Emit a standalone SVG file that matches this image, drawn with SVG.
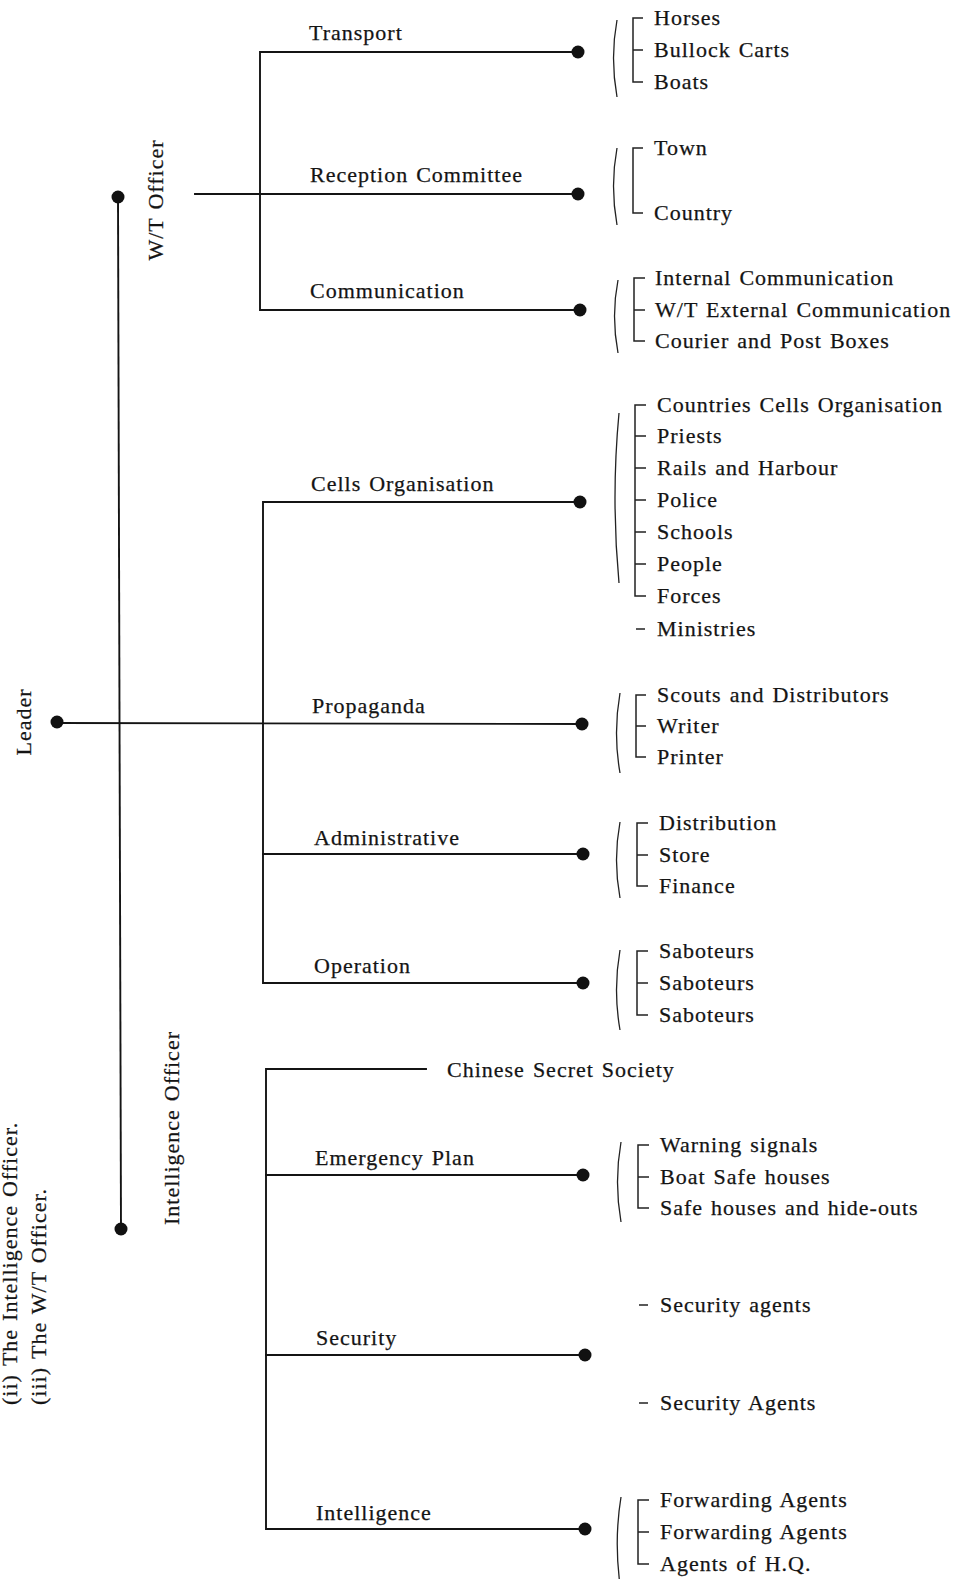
<svg xmlns="http://www.w3.org/2000/svg" width="964" height="1579" viewBox="0 0 964 1579">
  <style>
    text { font-family: "Liberation Serif", "Times New Roman", serif; font-size: 22px; fill: #141414; stroke: #141414; stroke-width: 0.25; letter-spacing: 1px; word-spacing: 1.5px; }
    .ln { stroke: #141414; stroke-width: 1.9; fill: none; stroke-linecap: square; }
    .dot { fill: #111; }
    .brace { stroke: #222; stroke-width: 1.3; fill: none; }
    .brk { stroke: #222; stroke-width: 1.5; fill: none; }
  </style>

  <rect width="964" height="1579" fill="#ffffff"/>

  <!-- side notes along the left edge -->
  <g id="notes">
    <text transform="translate(17,1405) rotate(-90)">(ii)<tspan dx="8">The Intelligence Officer.</tspan></text>
    <text transform="translate(46,1405) rotate(-90)">(iii)<tspan dx="8">The W/T Officer.</tspan></text>
  </g>

  <!-- connectors -->
  <g id="connectors">
    <!-- leader trunk and officer spine -->
    <line class="ln" x1="57" y1="723" x2="582" y2="724"/>
    <line class="ln" x1="118" y1="197" x2="121" y2="1229"/>
    <!-- W/T branch -->
    <polyline class="ln" points="578,52 260,52 260,310 580,310"/>
    <line class="ln" x1="195" y1="194" x2="578" y2="194"/>
    <!-- leader branch -->
    <polyline class="ln" points="580,502 263,502 263,983 583,983"/>
    <line class="ln" x1="263" y1="854" x2="583" y2="854"/>
    <!-- intelligence branch -->
    <polyline class="ln" points="426,1069 266,1069 266,1529 585,1529"/>
    <line class="ln" x1="266" y1="1175" x2="583" y2="1175"/>
    <line class="ln" x1="266" y1="1355" x2="585" y2="1355"/>

    <circle class="dot" cx="57" cy="722" r="6.5"/>
    <circle class="dot" cx="118" cy="197" r="6.5"/>
    <circle class="dot" cx="121" cy="1229" r="6.5"/>
    <circle class="dot" cx="578" cy="52" r="6.5"/>
    <circle class="dot" cx="578" cy="194" r="6.5"/>
    <circle class="dot" cx="580" cy="310" r="6.5"/>
    <circle class="dot" cx="580" cy="502" r="6.5"/>
    <circle class="dot" cx="582" cy="724" r="6.5"/>
    <circle class="dot" cx="583" cy="854" r="6.5"/>
    <circle class="dot" cx="583" cy="983" r="6.5"/>
    <circle class="dot" cx="583" cy="1175" r="6.5"/>
    <circle class="dot" cx="585" cy="1355" r="6.5"/>
    <circle class="dot" cx="585" cy="1529" r="6.5"/>
  </g>

  <!-- officers -->
  <g id="leader">
    <text transform="translate(31,722) rotate(-90)" text-anchor="middle">Leader</text>
  </g>
  <g id="wt-officer">
    <text transform="translate(163,200) rotate(-90)" text-anchor="middle">W/T Officer</text>
  </g>
  <g id="intelligence-officer">
    <text transform="translate(179,1128) rotate(-90)" text-anchor="middle">Intelligence Officer</text>
  </g>

  <!-- Transport -->
  <g id="transport">
    <text x="309" y="40">Transport</text>
    <path class="brace" d="M617,20 Q610,58 617,97"/>
    <path class="brk" d="M643,18 H633 V82 H643 M633,50 H643"/>
    <text x="654" y="25">Horses</text>
    <text x="654" y="57">Bullock Carts</text>
    <text x="654" y="89">Boats</text>
  </g>

  <!-- Reception Committee -->
  <g id="reception">
    <text x="310" y="182">Reception Committee</text>
    <path class="brace" d="M617,148 Q610,186 617,225"/>
    <path class="brk" d="M643,148 H633 V213 H643"/>
    <text x="654" y="155">Town</text>
    <text x="654" y="220">Country</text>
  </g>

  <!-- Communication -->
  <g id="communication">
    <text x="310" y="298">Communication</text>
    <path class="brace" d="M618,280 Q611,316 618,353"/>
    <path class="brk" d="M645,278 H634 V341 H645 M634,310 H645"/>
    <text x="655" y="285">Internal Communication</text>
    <text x="655" y="317">W/T External Communication</text>
    <text x="655" y="348">Courier and Post Boxes</text>
  </g>

  <!-- Cells Organisation -->
  <g id="cells">
    <text x="311" y="491">Cells Organisation</text>
    <path class="brace" d="M619,413 Q611,498 619,583"/>
    <path class="brk" d="M646,405 H635 V596 H646 M635,436 H646 M635,468 H646 M635,500 H646 M635,532 H646 M635,564 H646"/>
    <text x="657" y="412">Countries Cells Organisation</text>
    <text x="657" y="443">Priests</text>
    <text x="657" y="475">Rails and Harbour</text>
    <text x="657" y="507">Police</text>
    <text x="657" y="539">Schools</text>
    <text x="657" y="571">People</text>
    <text x="657" y="603">Forces</text>
    <line class="brk" x1="636" y1="629" x2="645" y2="629"/>
    <text x="657" y="636">Ministries</text>
  </g>

  <!-- Propaganda -->
  <g id="propaganda">
    <text x="312" y="713">Propaganda</text>
    <path class="brace" d="M620,693 Q613,733 620,773"/>
    <path class="brk" d="M646,695 H636 V757 H646 M636,726 H646"/>
    <text x="657" y="702">Scouts and Distributors</text>
    <text x="657" y="733">Writer</text>
    <text x="657" y="764">Printer</text>
  </g>

  <!-- Administrative -->
  <g id="administrative">
    <text x="314" y="845">Administrative</text>
    <path class="brace" d="M620,822 Q613,860 620,898"/>
    <path class="brk" d="M648,823 H637 V886 H648 M637,855 H648"/>
    <text x="659" y="830">Distribution</text>
    <text x="659" y="862">Store</text>
    <text x="659" y="893">Finance</text>
  </g>

  <!-- Operation -->
  <g id="operation">
    <text x="314" y="973">Operation</text>
    <path class="brace" d="M620,950 Q613,990 620,1030"/>
    <path class="brk" d="M648,951 H637 V1015 H648 M637,983 H648"/>
    <text x="659" y="958">Saboteurs</text>
    <text x="659" y="990">Saboteurs</text>
    <text x="659" y="1022">Saboteurs</text>
  </g>

  <!-- Chinese Secret Society -->
  <g id="secret-society">
    <text x="447" y="1077">Chinese Secret Society</text>
  </g>

  <!-- Emergency Plan -->
  <g id="emergency">
    <text x="315" y="1165">Emergency Plan</text>
    <path class="brace" d="M621,1142 Q614,1182 621,1222"/>
    <path class="brk" d="M649,1145 H638 V1208 H649 M638,1177 H649"/>
    <text x="660" y="1152">Warning signals</text>
    <text x="660" y="1184">Boat Safe houses</text>
    <text x="660" y="1215">Safe houses and hide-outs</text>
  </g>

  <!-- Security -->
  <g id="security">
    <text x="316" y="1345">Security</text>
    <line class="brk" x1="639" y1="1305" x2="648" y2="1305"/>
    <text x="660" y="1312">Security agents</text>
    <line class="brk" x1="639" y1="1403" x2="648" y2="1403"/>
    <text x="660" y="1410">Security Agents</text>
  </g>

  <!-- Intelligence -->
  <g id="intelligence">
    <text x="316" y="1520">Intelligence</text>
    <path class="brace" d="M621,1497 Q614,1540 620,1585"/>
    <path class="brk" d="M649,1500 H638 V1564 H649 M638,1532 H649"/>
    <text x="660" y="1507">Forwarding Agents</text>
    <text x="660" y="1539">Forwarding Agents</text>
    <text x="660" y="1571">Agents of H.Q.</text>
  </g>
</svg>
